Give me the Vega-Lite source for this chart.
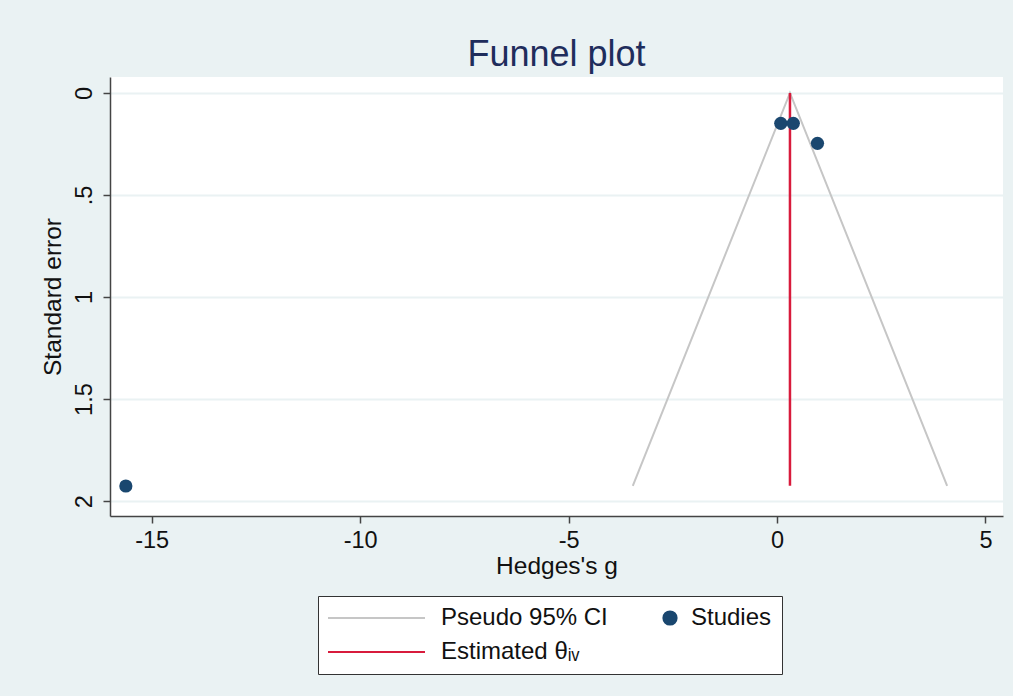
{
  "$schema": "https://vega.github.io/schema/vega-lite/v6.json",
  "autosize": {"type": "none"},
  "width": 893,
  "height": 439,
  "padding": {"left": 110, "top": 77, "right": 10, "bottom": 180},
  "background": "#eaf2f3",
  "title": {"text": "Funnel plot", "font": "Liberation Sans", "fontSize": 36, "fontWeight": "normal", "color": "#1f2d5c", "offset": 3, "anchor": "middle"},
  "config": {
    "view": {"stroke": null, "fill": "white"},
    "axis": {
      "labelFont": "Liberation Sans", "labelFontSize": 23.5, "labelColor": "#111111",
      "titleFont": "Liberation Sans", "titleFontSize": 24.5, "titleFontWeight": "normal", "titleColor": "#111111",
      "domainColor": "#444444", "domainWidth": 1.5, "tickColor": "#444444", "tickWidth": 1.5, "tickSize": 7
    },
    "legend": {"labelFont": "Liberation Sans", "labelFontSize": 24, "labelColor": "#111111", "labelLimit": 400}
  },
  "datasets": {
    "studies": [
      {"g": 0.09, "se": 0.149, "series": "Studies"},
      {"g": 0.39, "se": 0.149, "series": "Studies"},
      {"g": 0.97, "se": 0.247, "series": "Studies"},
      {"g": -15.62, "se": 1.926, "series": "Studies"}
    ],
    "funnel": [
      {"g": -3.46, "se": 1.925, "o": 1, "series": "Pseudo 95% CI"},
      {"g": 0.31, "se": 0, "o": 2, "series": "Pseudo 95% CI"},
      {"g": 4.08, "se": 1.925, "o": 3, "series": "Pseudo 95% CI"}
    ],
    "estimate": [
      {"g": 0.31, "se": 0, "o": 1, "series": "Estimated θᵢᵥ"},
      {"g": 0.31, "se": 1.925, "o": 2, "series": "Estimated θᵢᵥ"}
    ]
  },
  "encoding": {
    "x": {"field": "g", "type": "quantitative",
      "scale": {"domain": [-16, 5.42], "nice": false, "zero": false},
      "axis": {"title": "Hedges's g", "values": [-15, -10, -5, 0, 5], "grid": false, "labelPadding": 5, "titlePadding": 3,
        "labelExpr": "datum.value < 0 ? '-' + abs(datum.value) : '' + datum.value"}},
    "y": {"field": "se", "type": "quantitative",
      "scale": {"domain": [-0.078, 2.073], "nice": false, "zero": false, "reverse": true},
      "axis": {"title": "Standard error", "values": [0, 0.5, 1, 1.5, 2], "grid": true, "gridColor": "#eaf2f3", "gridWidth": 2,
        "labelAngle": -90, "labelAlign": "center", "labelBaseline": "bottom", "labelPadding": 7, "titlePadding": 7,
        "labelExpr": "datum.value == 0.5 ? '.5' : datum.value == 1.5 ? '1.5' : '' + datum.value"}}
  },
  "layer": [
    {
      "data": {"name": "funnel"},
      "mark": {"type": "line", "strokeWidth": 2},
      "encoding": {
        "order": {"field": "o"},
        "color": {"field": "series", "type": "nominal",
          "scale": {"domain": ["Pseudo 95% CI", "Studies", "Estimated θᵢᵥ"], "range": ["#c6c6c6", "#1a476f", "#d81b3c"]},
          "legend": {
            "title": null, "orient": "none", "legendX": 208, "legendY": 519, "columns": 2, "direction": "horizontal",
            "padding": 10, "strokeColor": "#333333", "fillColor": "white", "columnPadding": 54, "rowPadding": 10,
            "clipHeight": 24, "labelOffset": 16,
            "labelExpr": "datum.value === 'Studies' ? 'Studies\u2003' : datum.label",
            "encode": {
              "symbols": {"update": {
                "stroke": {"scale": "color", "field": "value"},
                "fill": {"scale": "color", "field": "value"},
                "strokeWidth": {"value": 2},
                "x": {"signal": "datum.value === 'Studies' ? 8 : 48.5"}
              }},
              "labels": {"update": {
                "x": {"signal": "datum.value === 'Studies' ? 29 : 113"}
              }}
            }
          }
        }
      }
    },
    {
      "data": {"name": "estimate"},
      "mark": {"type": "line", "strokeWidth": 2.5},
      "encoding": {
        "order": {"field": "o"},
        "color": {"field": "series", "type": "nominal"}
      }
    },
    {
      "data": {"name": "studies"},
      "mark": {"type": "point", "filled": true, "opacity": 1},
      "encoding": {
        "color": {"field": "series", "type": "nominal"},
        "shape": {"field": "series", "type": "nominal",
          "scale": {"domain": ["Pseudo 95% CI", "Studies", "Estimated θᵢᵥ"], "range": ["stroke", "circle", "stroke"]}},
        "size": {"field": "series", "type": "nominal",
          "scale": {"type": "ordinal", "domain": ["Pseudo 95% CI", "Studies", "Estimated θᵢᵥ"], "range": [9409, 175, 9409]}}
      }
    }
  ]
}
